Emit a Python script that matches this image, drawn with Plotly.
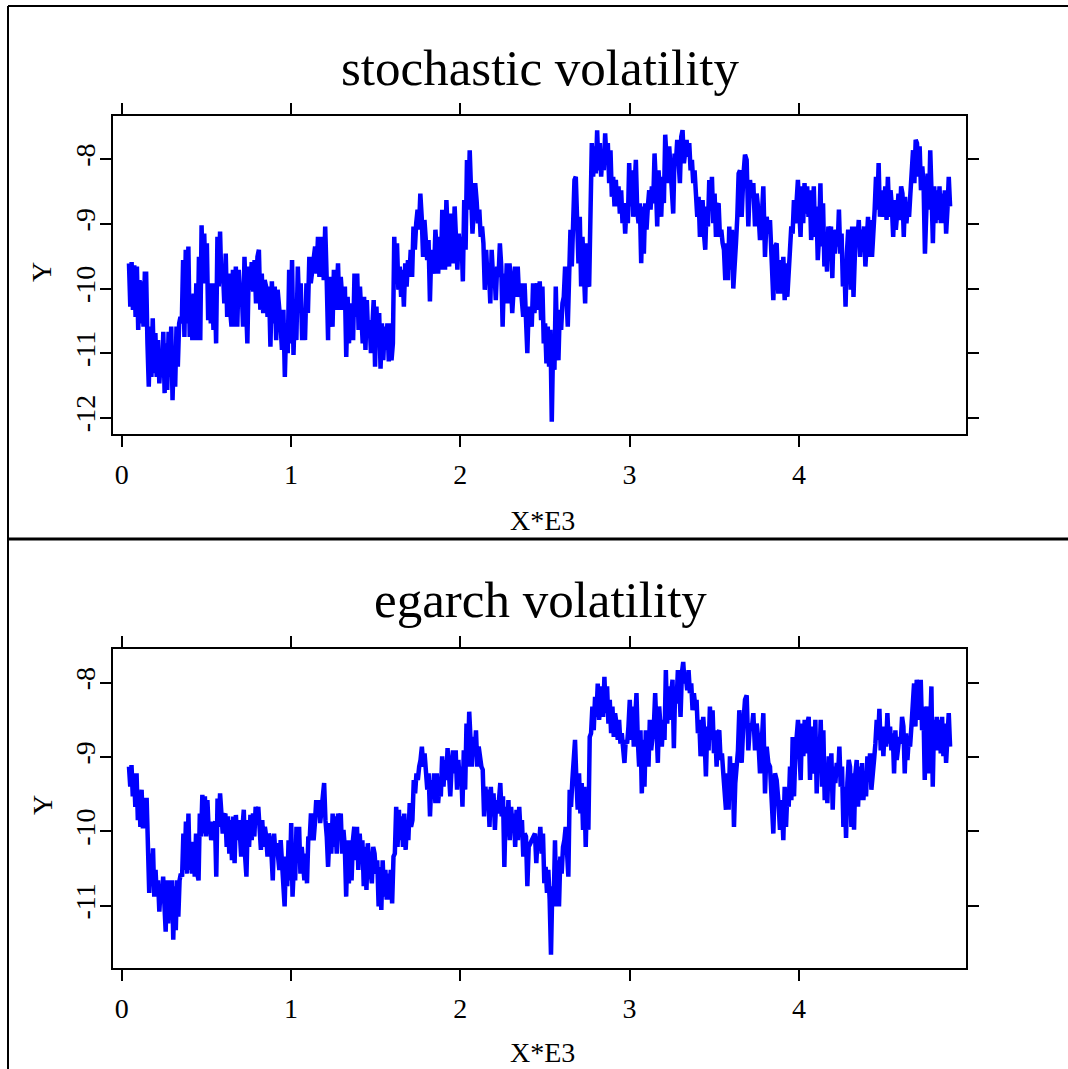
import numpy as np
import plotly.graph_objects as go

# ---- stochastic volatility: log-variance readings, block by block ----
# each block covers an observation range (index units, later shown as X*E3)
stoch_spans = [(43, 581), (589, 1219), (1221, 2404), (2422, 3644), (3652, 3908), (3916, 4893)]

stoch_1 = [-9.61, -10.28, -9.59, -10.33, -9.64, -10.44, -9.66, -10.64, -9.87, -10.54,
           -9.89, -10.59, -9.77, -9.77, -10.85, -11.52, -10.59, -11.37, -10.46, -11.31,
           -10.69, -11.37, -10.80, -11.47, -11.11, -11.37, -10.67, -11.62, -10.85, -11.57,
           -10.67, -11.37, -10.59, -11.73, -10.95, -11.52, -10.59, -11.21, -10.54, -10.44,
           -10.54, -9.56, -10.75, -9.40, -10.54, -9.35, -10.75, -10.13, -10.80, -10.08,
           -10.80, -9.92, -10.80, -9.51, -10.80, -9.02, -9.92, -9.15, -9.92, -9.30,
           -10.49, -9.92, -10.54, -9.92, -10.64, -9.92, -10.85, -9.20, -9.97, -9.12]

stoch_2 = [-9.92, -9.71, -10.23, -9.46, -10.44, -9.77, -10.33, -10.59, -9.71, -10.59,
           -9.66, -10.59, -9.71, -10.13, -9.97, -10.59, -9.51, -10.08, -10.85, -9.66,
           -10.02, -9.59, -10.05, -9.56, -10.23, -9.51, -9.40, -10.33, -9.77, -10.38,
           -9.87, -9.97, -10.44, -9.97, -10.90, -9.89, -10.54, -9.97, -10.80, -10.02,
           -10.23, -10.54, -10.95, -10.33, -11.37, -10.54, -11.00, -9.71, -10.85, -9.56,
           -11.03, -10.23, -10.80, -9.66, -10.33, -9.92, -10.80, -10.33, -10.80, -9.92,
           -10.38, -9.51, -9.92, -9.71, -9.61, -9.35, -9.77, -9.20, -9.82, -9.40,
           -9.20, -9.87, -9.04, -9.82, -10.80]

stoch_3 = [-9.92, -9.82, -10.44, -10.59, -9.71, -10.33, -10.13, -9.61, -10.33, -9.82,
           -10.13, -10.33, -9.97, -11.06, -10.13, -10.85, -10.23, -10.59, -10.80, -9.77,
           -10.44, -9.77, -10.64, -9.97, -10.54, -10.85, -10.13, -10.95, -10.18, -10.75,
           -10.49, -11.00, -10.59, -10.18, -11.21, -10.28, -10.85, -10.38, -11.24, -10.54,
           -11.11, -10.59, -10.95, -10.54, -11.13, -10.54, -11.11, -10.85, -9.20, -9.92,
           -9.30, -10.02, -9.66, -10.13, -9.71, -10.28, -9.61, -9.97, -9.56, -9.82,
           -9.40, -9.82, -9.04, -9.40, -8.99, -8.78, -9.09, -8.53, -8.89, -9.51,
           -8.94, -9.30, -9.56, -9.25, -10.20, -9.40, -9.66, -9.77, -9.09, -9.46,
           -9.77, -9.20, -9.71, -8.78, -9.30, -9.71, -8.63, -9.30, -9.66, -8.84,
           -9.40, -9.61, -8.73, -9.09, -9.71, -9.15, -9.51, -9.20, -9.89, -8.63,
           -9.40, -8.01, -8.78, -7.86, -8.68, -9.15, -8.78, -8.37, -8.63, -8.99,
           -8.78, -9.20, -9.04, -9.30, -10.02, -9.40, -9.87, -9.71, -10.23, -9.40,
           -9.82, -9.71, -10.18, -9.66, -9.82, -9.30, -9.66, -10.59, -9.77, -10.23,
           -9.61, -10.23, -9.61, -9.87, -10.38, -10.02, -9.66, -10.13, -9.66, -10.13,
           -9.92, -10.18, -10.44, -9.92, -10.54, -11.00, -10.28]

stoch_4 = [-10.59, -9.92, -10.38, -10.13, -9.92, -10.33, -9.89, -10.49, -9.97, -10.85,
           -10.54, -11.16, -10.59, -11.21, -10.64, -12.06, -10.85, -11.26, -9.97, -10.85,
           -11.11, -10.33, -10.64, -10.23, -10.13, -9.66, -10.13, -10.59, -9.82, -9.09,
           -9.66, -8.89, -8.32, -8.27, -9.04, -9.61, -8.89, -9.97, -9.20, -9.82,
           -10.23, -9.30, -9.92, -9.97, -8.42, -7.75, -8.27, -7.80, -8.22, -7.55,
           -8.17, -7.75, -8.27, -7.91, -8.17, -7.60, -8.01, -7.75, -8.37, -7.86,
           -8.58, -8.27, -8.73, -8.32, -8.73, -8.42, -8.84, -8.48, -8.99, -8.68,
           -9.15, -8.73, -8.99, -8.06, -8.73, -8.17, -8.89, -8.58, -8.01, -8.78,
           -8.99, -8.68, -9.61, -8.73, -9.46, -8.68, -9.09, -8.73, -8.48, -8.78,
           -8.42, -8.68, -7.91, -8.37, -9.04, -8.17, -8.53, -8.89, -8.27, -8.68,
           -7.62, -8.01, -8.37, -7.80, -8.17, -8.32, -8.84, -7.91, -8.06, -7.70,
           -8.01, -8.37, -7.65, -7.55, -8.06, -7.80, -7.70, -7.96, -7.75, -8.17,
           -8.01, -8.37, -8.17, -8.53, -8.89, -8.58, -9.20, -8.78, -8.63, -9.15,
           -9.40, -8.73, -9.04, -8.32, -8.78, -8.27, -8.99, -8.53, -9.20, -8.73,
           -8.68, -9.20, -9.09, -9.30, -9.40, -9.87, -9.30, -9.87, -9.04, -9.71,
           -9.09, -10.00, -9.40, -9.30, -8.89, -8.22]

stoch_5 = [-8.17, -8.89, -8.27, -7.93, -8.01, -9.04, -8.32, -8.58, -8.37, -9.04,
           -8.53, -8.78, -9.25, -8.94, -8.42, -9.51, -8.89, -9.15, -8.94, -9.71,
           -10.18, -9.35, -9.30, -10.08, -9.56, -10.08, -9.51]

stoch_6 = [-10.18, -9.61, -10.13, -9.82, -9.30, -9.04, -9.15, -8.63, -8.99, -8.58,
           -8.32, -8.78, -9.20, -8.42, -8.99, -8.37, -8.84, -8.42, -8.89, -8.48,
           -9.25, -8.99, -8.42, -9.20, -8.73, -9.56, -9.20, -8.37, -9.35, -8.68,
           -9.66, -9.20, -9.74, -9.04, -9.30, -9.04, -9.84, -9.09, -9.46, -9.09,
           -9.35, -8.78, -9.46, -9.15, -9.97, -9.56, -10.28, -9.46, -9.09, -9.40,
           -10.02, -9.04, -10.13, -9.51, -9.04, -9.25, -8.94, -9.51, -9.09, -9.40,
           -9.04, -9.66, -9.25, -8.89, -9.51, -8.94, -9.51, -8.89, -8.78, -8.27,
           -8.78, -8.06, -8.89, -8.68, -8.48, -8.89, -8.42, -8.94, -8.27, -8.89,
           -8.48, -8.73, -9.20, -8.63, -9.09, -8.84, -8.53, -8.94, -8.42, -8.53,
           -9.20, -8.58, -8.99, -8.73, -8.89, -8.53, -7.96, -7.86, -8.37, -7.70,
           -7.75, -8.27, -7.80, -8.48, -8.11, -8.42, -9.46, -8.58, -8.22, -8.78,
           -7.86, -8.53, -9.30, -8.42, -8.99, -8.48, -8.94, -8.42, -8.99, -8.53,
           -8.99, -8.48, -9.15, -8.78, -8.27, -8.73]

# ---- egarch volatility ----
egarch_spans = [(43, 581), (589, 1219), (1230, 2404), (2441, 3648), (3662, 3908), (3916, 4893)]

egarch_1 = [-9.13, -9.40, -9.11, -9.53, -9.22, -9.67, -9.22, -9.85, -9.49, -9.94,
            -9.44, -9.96, -9.67, -9.58, -9.58, -10.34, -10.83, -10.30, -10.74, -10.23,
            -10.88, -10.52, -10.88, -10.66, -11.08, -10.77, -10.97, -10.61, -10.97, -11.35,
            -10.66, -11.24, -10.66, -11.19, -10.66, -11.46, -10.74, -11.33, -10.66, -11.15,
            -10.66, -10.57, -10.61, -10.03, -10.52, -9.87, -10.57, -9.76, -10.52, -10.16,
            -10.57, -10.14, -10.61, -10.03, -10.57, -10.66, -9.76, -10.07, -9.51, -10.03,
            -9.53, -10.07, -9.58, -9.98, -9.87, -10.12, -9.94, -9.89, -9.87, -10.61,
            -9.56, -9.94, -9.49]

egarch_2 = [-9.76, -10.03, -9.80, -9.76, -10.21, -9.80, -10.30, -9.85, -10.39, -9.80,
            -10.43, -9.78, -10.12, -9.85, -10.03, -10.34, -9.94, -9.71, -10.34, -10.61,
            -9.85, -10.21, -9.78, -10.12, -9.76, -10.07, -9.67, -9.80, -9.67, -9.94,
            -10.25, -9.85, -10.21, -9.94, -10.07, -10.34, -10.03, -10.12, -10.30, -10.66,
            -10.03, -10.30, -10.16, -10.34, -10.52, -10.12, -10.48, -10.66, -11.01, -10.34,
            -10.74, -10.12, -10.66, -9.89, -10.88, -10.48, -10.66, -9.94, -10.34, -9.94,
            -10.57, -10.21, -10.39, -10.66, -10.30, -10.70, -10.07, -10.12, -9.76, -9.94,
            -10.12, -9.89, -9.58, -9.76, -9.58, -9.89, -9.67, -9.44, -9.35, -9.85,
            -10.07, -10.48]

egarch_3 = [-9.89, -10.30, -9.76, -10.21, -9.80, -10.30, -9.76, -10.12, -9.76, -10.30,
            -9.98, -10.21, -10.88, -10.12, -10.70, -10.12, -10.66, -10.12, -9.94, -10.39,
            -9.94, -10.52, -10.03, -10.34, -10.12, -10.74, -10.21, -10.79, -10.16, -10.39,
            -10.52, -10.70, -10.21, -10.30, -10.57, -10.39, -11.01, -10.48, -11.06, -10.39,
            -10.88, -10.52, -10.92, -10.57, -10.92, -10.52, -10.97, -10.34, -10.30, -9.67,
            -10.21, -9.71, -10.12, -9.80, -10.21, -9.76, -10.25, -9.85, -10.12, -9.62,
            -9.94, -9.85, -9.31, -9.49, -9.22, -9.31, -9.13, -9.04, -8.86, -9.13,
            -8.95, -9.22, -9.44, -9.22, -9.80, -9.31, -9.53, -9.22, -9.62, -9.22,
            -9.62, -9.40, -9.53, -8.99, -9.40, -9.04, -9.31, -8.88, -9.22, -9.53,
            -9.13, -8.91, -9.22, -8.91, -9.44, -9.04, -9.35, -9.13, -9.67, -8.91,
            -9.44, -8.55, -9.13, -8.39, -8.77, -9.13, -8.73, -8.99, -8.64, -9.13,
            -8.86, -9.04, -9.13, -9.17, -9.80, -9.40, -9.71, -9.44, -9.94, -9.40,
            -9.80, -9.49, -9.98, -9.58, -9.76, -9.58, -9.35, -9.80, -9.53, -10.48,
            -9.67, -10.07, -9.58, -10.12, -9.67, -9.94, -9.76, -10.21, -9.71, -10.12,
            -9.67, -10.03, -9.85, -10.34, -10.03, -10.07, -10.74, -10.21]

egarch_4 = [-10.03, -10.43, -10.07, -10.21, -9.94, -10.30, -10.03, -10.70, -10.48, -10.83,
            -10.52, -10.92, -11.66, -10.74, -10.97, -10.12, -11.01, -10.39, -11.01, -10.34,
            -10.57, -10.21, -10.12, -9.94, -10.48, -10.61, -9.44, -9.67, -9.31, -8.91,
            -8.77, -9.31, -9.71, -9.22, -9.76, -9.35, -9.98, -9.40, -10.21, -9.44,
            -9.98, -8.73, -8.68, -8.32, -8.64, -8.19, -8.46, -8.01, -8.50, -8.32,
            -8.05, -8.46, -7.92, -8.41, -8.05, -8.55, -8.23, -8.68, -8.32, -8.73,
            -8.41, -8.55, -8.77, -8.50, -8.82, -8.68, -8.91, -9.08, -8.77, -8.82,
            -8.59, -8.23, -8.77, -8.32, -8.86, -8.50, -8.14, -8.77, -9.13, -8.64,
            -9.49, -8.77, -9.40, -8.64, -8.91, -9.13, -8.50, -8.91, -8.73, -8.59,
            -8.14, -8.68, -9.08, -8.32, -8.55, -8.86, -8.50, -8.77, -7.83, -8.55,
            -8.05, -8.50, -8.14, -7.96, -8.88, -8.05, -8.28, -7.83, -8.01, -8.46,
            -7.87, -7.72, -8.01, -7.92, -8.10, -7.83, -8.14, -8.01, -8.37, -8.14,
            -8.32, -8.23, -8.68, -8.50, -8.99, -8.59, -8.46, -8.77, -9.26, -8.59,
            -8.91, -8.32, -8.77, -8.37, -8.95, -8.64, -9.13, -8.68, -8.64, -9.04,
            -8.95, -9.22, -9.44, -9.71, -9.22, -9.71, -8.99, -9.58, -9.08, -9.94,
            -9.35, -9.13, -8.91, -8.37]

egarch_5 = [-9.08, -8.55, -8.23, -8.17, -8.91, -8.55, -8.64, -8.41, -8.91, -8.55,
            -8.77, -9.22, -8.91, -8.41, -9.49, -8.86, -9.08, -9.13, -9.58, -10.03,
            -9.22, -9.31, -9.58, -9.98, -9.58, -10.12]

egarch_6 = [-9.40, -9.94, -9.49, -9.67, -9.13, -9.58, -8.73, -9.53, -8.95, -8.68,
            -8.50, -8.91, -9.31, -8.55, -8.99, -8.50, -8.95, -8.55, -8.46, -9.31,
            -8.59, -9.13, -9.22, -8.50, -9.49, -8.82, -9.13, -8.50, -9.40, -8.64,
            -9.58, -9.17, -9.62, -8.99, -9.22, -8.95, -9.71, -9.13, -9.35, -9.08,
            -9.26, -8.86, -9.40, -9.13, -9.94, -9.40, -10.09, -9.35, -9.04, -9.13,
            -9.94, -9.22, -9.98, -9.22, -9.04, -9.67, -9.13, -9.58, -9.08, -9.58,
            -9.26, -9.53, -8.99, -9.31, -8.95, -9.44, -9.13, -9.04, -8.82, -8.50,
            -8.77, -8.35, -8.91, -8.59, -8.99, -8.59, -8.86, -8.41, -8.82, -8.59,
            -8.91, -8.68, -9.22, -8.64, -9.04, -8.86, -8.73, -8.82, -8.46, -8.59,
            -9.22, -8.68, -9.04, -8.77, -8.86, -8.59, -8.14, -8.01, -8.59, -7.96,
            -8.14, -8.50, -7.96, -8.64, -8.32, -9.31, -8.55, -8.32, -9.22, -8.59,
            -8.05, -9.40, -8.50, -8.91, -8.46, -8.91, -8.50, -8.95, -8.46, -8.99,
            -8.55, -9.08, -8.77, -8.41, -8.86]

x_ticks = [0, 1, 2, 3, 4]
stoch_y_ticks = [-8, -9, -10, -11, -12]
egarch_y_ticks = [-8, -9, -10, -11]


def assemble(spans, blocks):
    """Join the blocks into one series; x in thousands of observations."""
    xs, ys = [], []
    for (start, end), vals in zip(spans, blocks):
        xs.append(np.linspace(start, end, len(vals)) / 1000.0)
        ys.append(np.asarray(vals, dtype=float))
    return np.concatenate(xs), np.concatenate(ys)


sv_x, sv_y = assemble(stoch_spans, [stoch_1, stoch_2, stoch_3, stoch_4, stoch_5, stoch_6])
eg_x, eg_y = assemble(egarch_spans, [egarch_1, egarch_2, egarch_3, egarch_4, egarch_5, egarch_6])

W, H = 1068, 1069
SERIF = "Liberation Serif"
BLUE = "#0000ff"


def px(x):
    return x / W


def py(y):
    return 1 - y / H


fig = go.Figure()
fig.add_trace(go.Scatter(x=sv_x, y=sv_y, mode="lines", line=dict(color=BLUE, width=4.5),
                         xaxis="x", yaxis="y", showlegend=False, hoverinfo="skip"))
fig.add_trace(go.Scatter(x=eg_x, y=eg_y, mode="lines", line=dict(color=BLUE, width=4.5),
                         xaxis="x2", yaxis="y2", showlegend=False, hoverinfo="skip"))

axis_style = dict(showline=True, linecolor="black", linewidth=2, mirror="ticks",
                  ticks="outside", ticklen=11, tickwidth=2, tickcolor="black",
                  showgrid=False, zeroline=False, fixedrange=True,
                  tickfont=dict(family=SERIF, size=28, color="black"))

x_dom = [px(113), px(966)]
x_range = [-0.0514, 4.987]

fig.update_layout(
    width=W, height=H,
    margin=dict(l=0, r=0, t=0, b=0),
    paper_bgcolor="white", plot_bgcolor="white",
    xaxis=dict(domain=x_dom, range=x_range, anchor="y",
               tickvals=x_ticks, ticktext=[str(v) for v in x_ticks],
               ticklabelstandoff=3, **axis_style),
    yaxis=dict(domain=[py(434), py(116)], range=[-12.252, -7.330], anchor="x",
               tickvals=stoch_y_ticks, ticktext=[str(v) for v in stoch_y_ticks],
               tickangle=-90, ticklabelstandoff=-6, **axis_style),
    xaxis2=dict(domain=x_dom, range=x_range, anchor="y2",
                tickvals=x_ticks, ticktext=[str(v) for v in x_ticks],
                ticklabelstandoff=3, **axis_style),
    yaxis2=dict(domain=[py(968), py(649)], range=[-11.840, -7.546], anchor="x2",
                tickvals=egarch_y_ticks, ticktext=[str(v) for v in egarch_y_ticks],
                tickangle=-90, ticklabelstandoff=-6, **axis_style),
)

# outer frame and the rule between the two panels
frame = dict(color="black", width=2)
fig.add_shape(type="line", xref="paper", yref="paper", x0=px(8), x1=px(8), y0=0, y1=py(6), line=frame)
fig.add_shape(type="line", xref="paper", yref="paper", x0=px(8), x1=1, y0=py(6), y1=py(6), line=frame)
fig.add_shape(type="line", xref="paper", yref="paper", x0=px(8), x1=1, y0=py(539), y1=py(539),
              line=dict(color="black", width=3))

# panel titles and axis titles
texts = [
    ("stochastic volatility", 540, 68, 51, 0),
    ("egarch volatility", 540, 600, 51, 0),
    ("X*E3", 542, 520, 28, 0),
    ("X*E3", 542, 1052, 28, 0),
    ("Y", 42, 272, 28, -90),
    ("Y", 42, 805, 28, -90),
]
for text, tx, ty, size, angle in texts:
    fig.add_annotation(text=text, xref="paper", yref="paper", x=px(tx), y=py(ty),
                       xanchor="center", yanchor="middle", showarrow=False, textangle=angle,
                       font=dict(family=SERIF, size=size, color="black"))

fig.write_html("out.html")
